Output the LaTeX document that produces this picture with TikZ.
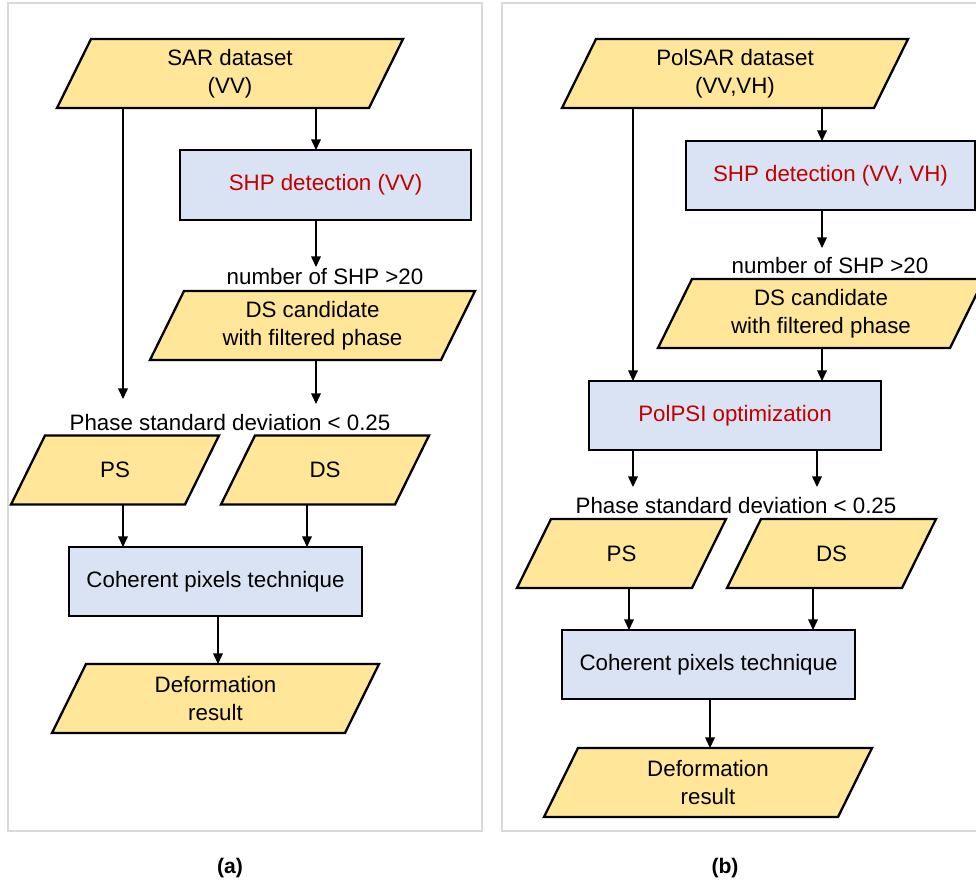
\documentclass[tikz,border=0pt]{standalone}
\usepackage{fontspec}
\setmainfont{Liberation Sans}
\usetikzlibrary{arrows.meta,backgrounds}
\definecolor{paraY}{HTML}{FFE699}
\definecolor{boxB}{HTML}{DAE3F3}
\definecolor{txtR}{HTML}{C00000}
\definecolor{frameG}{HTML}{D9D9D9}
\newlength\pxu
\setlength\pxu{0.02cm}
\begin{document}
\begin{tikzpicture}[x=0.02cm,y=-0.02cm,
  font=\fontsize{12.7}{16}\selectfont,
  procbox/.style={draw, line width=1.3pt, fill=boxB, minimum height=69*\pxu, inner sep=0pt, outer sep=0pt, align=center},
  parabody/.style={minimum height=69*\pxu, inner sep=0pt, outer sep=0pt, align=center},
  lbl/.style={inner sep=0pt, align=center},
  arr/.style={line width=0.7pt, -{Triangle[length=6pt,width=5.5pt]}},
  frm/.style={draw=frameG, line width=0.7pt},
  captext/.style={inner sep=0pt, font=\fontsize{12}{14}\selectfont\bfseries}
]
\useasboundingbox (0,0) rectangle (976,884);
% frames
\draw[frm] (8,3) rectangle (482,831);
\draw[frm] (502,3) rectangle (995,831);

% ---------- panel (a) ----------
\node[parabody, minimum width=312*\pxu] (sarA) at (230,73.5) {SAR dataset\\(VV)};
\node[procbox, minimum width=291*\pxu, minimum height=70*\pxu, text=txtR] (shpA) at (325.5,185) {SHP detection (VV)};
\node[lbl] (nshpA) at (325,277) {number of SHP >20};
\node[parabody, minimum width=291*\pxu] (dscA) at (312.5,325.5) {DS candidate\\with filtered phase};
\node[lbl] (phA) at (230,423) {Phase standard deviation < 0.25};
\node[parabody, minimum width=174*\pxu] (psA) at (115,470) {PS};
\node[parabody, minimum width=174*\pxu] (dsA) at (325,470) {DS};
\node[procbox, minimum width=293*\pxu] (cptA) at (215.5,581.5) {Coherent pixels technique};
\node[parabody, minimum width=293*\pxu] (defA) at (215.5,698.5) {Deformation\\result};
\node[captext] (capA) at (230,868) {(a)};

\coordinate (cA1) at (123,0);
\coordinate (cA2) at (316,0);
\coordinate (cA4) at (307,0);
\coordinate (cA5) at (218,0);
\coordinate (eA1) at (123,399);
\coordinate (eA2) at (316,267);
\coordinate (eA3) at (316,404);
\draw[arr] (sarA.south -| cA1) -- (eA1);
\draw[arr] (sarA.south -| cA2) -- (shpA.north -| cA2);
\draw[arr] (shpA.south -| cA2) -- (eA2);
\draw[arr] (dscA.south -| cA2) -- (eA3);
\draw[arr] (psA.south -| cA1) -- (cptA.north -| cA1);
\draw[arr] (dsA.south -| cA4) -- (cptA.north -| cA4);
\draw[arr] (cptA.south -| cA5) -- (defA.north -| cA5);

% ---------- panel (b) ----------
\node[parabody, minimum width=312*\pxu] (sarB) at (735,73.5) {PolSAR dataset\\(VV,VH)};
\node[procbox, minimum width=289*\pxu, text=txtR] (shpB) at (830.5,175.5) {SHP detection (VV, VH)};
\node[lbl] (nshpB) at (830,266) {number of SHP >20};
\node[parabody, minimum width=292*\pxu] (dscB) at (821,313.5) {DS candidate\\with filtered phase};
\node[procbox, minimum width=292*\pxu, text=txtR] (polB) at (735,415.5) {PolPSI optimization};
\node[lbl] (phB) at (736,506) {Phase standard deviation < 0.25};
\node[parabody, minimum width=175*\pxu] (psB) at (621.5,553.5) {PS};
\node[parabody, minimum width=175*\pxu] (dsB) at (831.5,553.5) {DS};
\node[procbox, minimum width=293*\pxu] (cptB) at (708.5,664.5) {Coherent pixels technique};
\node[parabody, minimum width=294*\pxu] (defB) at (708,782.5) {Deformation\\result};
\node[captext] (capB) at (725,868) {(b)};

\coordinate (cB1) at (633,0);
\coordinate (cB2) at (822,0);
\coordinate (cB3) at (817,0);
\coordinate (cB4) at (629,0);
\coordinate (cB5) at (813,0);
\coordinate (cB6) at (710,0);
\coordinate (eB1) at (822,248);
\coordinate (eB2) at (633,487);
\coordinate (eB3) at (817,487);
\draw[arr] (sarB.south -| cB1) -- (polB.north -| cB1);
\draw[arr] (sarB.south -| cB2) -- (shpB.north -| cB2);
\draw[arr] (shpB.south -| cB2) -- (eB1);
\draw[arr] (dscB.south -| cB2) -- (polB.north -| cB2);
\draw[arr] (polB.south -| cB1) -- (eB2);
\draw[arr] (polB.south -| cB3) -- (eB3);
\draw[arr] (psB.south -| cB4) -- (cptB.north -| cB4);
\draw[arr] (dsB.south -| cB5) -- (cptB.north -| cB5);
\draw[arr] (cptB.south -| cB6) -- (defB.north -| cB6);

% ---------- backgrounds and parallelograms ----------
\begin{scope}[on background layer]
\fill[white] (0,0) rectangle (976,884);
\foreach \n in {sarA,dscA,psA,dsA,defA,sarB,dscB,psB,dsB,defB}{
  \filldraw[fill=paraY, line width=1.3pt, line join=miter]
    ([xshift=17*\pxu]\n.north west) -- ([xshift=17*\pxu]\n.north east) --
    ([xshift=-17*\pxu]\n.south east) -- ([xshift=-17*\pxu]\n.south west) -- cycle;
}
\end{scope}
\end{tikzpicture}
\end{document}
